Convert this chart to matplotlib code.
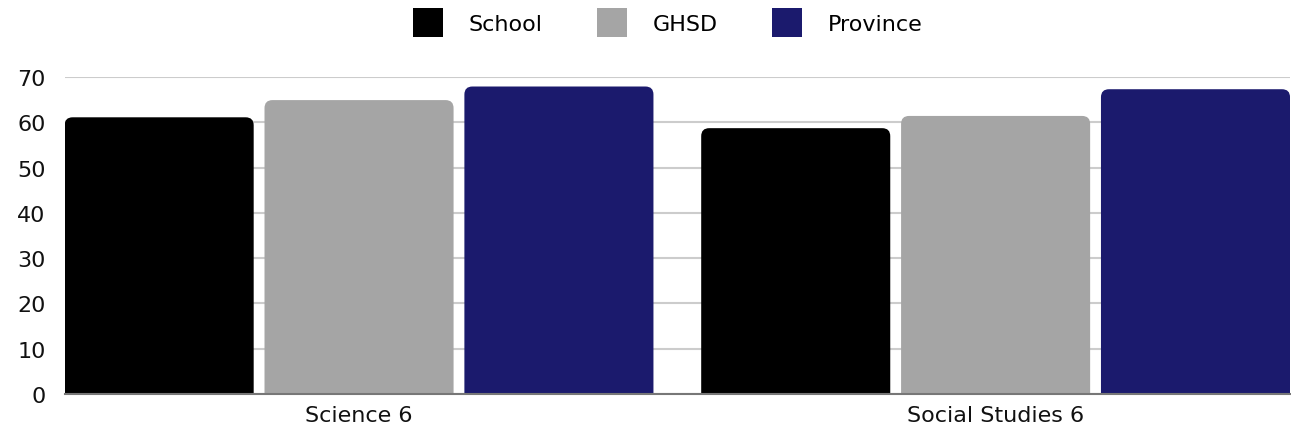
import matplotlib.pyplot as plt
from matplotlib.patches import FancyBboxPatch, Patch

categories = ['Science 6', 'Social Studies 6']
series_names = ['School', 'GHSD', 'Province']
school = [61.1, 58.7]
ghsd = [64.9, 61.4]
province = [67.9, 67.3]
colors = ['#000000', '#a5a5a5', '#1b1a6d']

plt.rcParams['font.family'] = ['DejaVu Sans']

fig = plt.figure(figsize=(12.91, 4.35), dpi=100)
ax = fig.add_axes([0.0503, 0.092, 0.9487, 0.7287])

ax.set_xlim(-0.462, 1.462)
ax.set_ylim(0, 70)

width = 0.297
step = 0.314
# px per data unit, used to keep the corner radius round
px_x = 1224.7 / 1.924
px_y = 317.0 / 70
radius_px = 8

for i, (vals, col) in enumerate(zip([school, ghsd, province], colors)):
    for j, v in enumerate(vals):
        x0 = j + (i - 1) * step - width / 2
        box = FancyBboxPatch((x0, -10), width, v + 10,
                             boxstyle=f"round,pad=0,rounding_size={radius_px / px_x}",
                             mutation_aspect=px_x / px_y,
                             facecolor=col, edgecolor='none', zorder=3)
        ax.add_patch(box)

ax.set_yticks(range(0, 71, 10))
ax.grid(axis='y', color='#cccccc', linewidth=1.5, zorder=0)
ax.set_xticks(range(len(categories)))
ax.set_xticklabels(categories)
ax.tick_params(length=0, labelsize=16, colors='#111111')
ax.tick_params(axis='x', pad=8)
ax.tick_params(axis='y', pad=14)
for s in ['top', 'right', 'left']:
    ax.spines[s].set_visible(False)
ax.spines['bottom'].set_color('#777777')
ax.spines['bottom'].set_linewidth(1.5)
ax.spines['bottom'].set_zorder(4)

handles = [Patch(facecolor=c, edgecolor='none') for c in colors]
fig.legend(handles, series_names, loc='upper center', bbox_to_anchor=(0.517, 1.025),
           ncol=3, frameon=False, fontsize=16, handlelength=1.35, handleheight=1.62,
           handletextpad=1.15, columnspacing=2.45)

fig.savefig('out.png', dpi=100)
